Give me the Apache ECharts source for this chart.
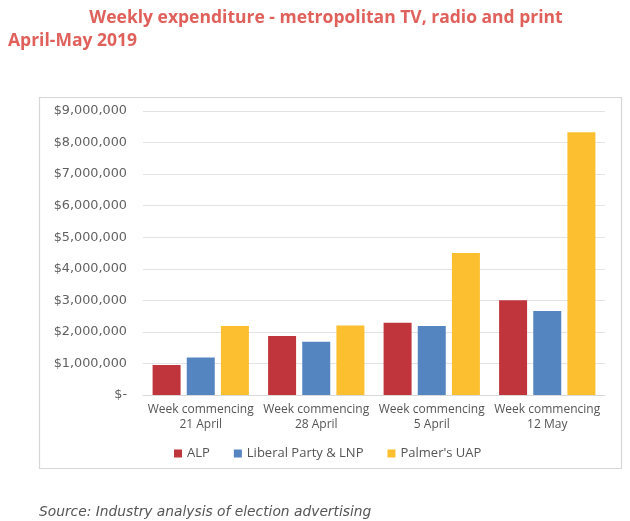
<!DOCTYPE html>
<html>
<head>
<meta charset="utf-8">
<script src="https://cdn.jsdelivr.net/npm/echarts@6/dist/echarts.min.js"></script>
<style>html,body{margin:0;padding:0;background:#fff;}#chart{width:630px;height:521px;}</style>
</head>
<body>
<div id="chart"></div>
<script>
var categories = ['Week commencing\n21 April', 'Week commencing\n28 April', 'Week commencing\n5 April', 'Week commencing\n12 May'];
var alp = [950000, 1870000, 2290000, 3000000];
var liberal = [1190000, 1690000, 2190000, 2660000];
var palmer = [2190000, 2200000, 4500000, 8330000];
var seriesNames = ['ALP', 'Liberal Party & LNP', "Palmer's UAP"];

var chart = echarts.init(document.getElementById('chart'));
function fmt(v) {
  if (v === 0) return '$-';
  return '$' + String(v).replace(/\B(?=(\d{3})+(?!\d))/g, ',');
}
var option = {
  animation: false,
  backgroundColor: '#fff',
  title: [
    { text: 'Weekly expenditure - metropolitan TV, radio and print', left: 321, top: 4, textAlign: 'center',
      textStyle: { fontFamily: 'Open Sans', fontWeight: 'bold', fontSize: 17.5, color: '#E0605B' } },
    { text: 'April-May 2019', left: 3, top: 27,
      textStyle: { fontFamily: 'Open Sans', fontWeight: 'bold', fontSize: 17.5, color: '#E0605B' } },
    { text: 'Source: Industry analysis of election advertising', left: 34, top: 500,
      textStyle: { fontFamily: 'DejaVu Sans', fontStyle: 'italic', fontWeight: 'normal', fontSize: 13.8, color: '#555' } }
  ],
  graphic: [
    { type: 'rect', shape: { x: 39.5, y: 97.5, width: 582, height: 371 }, style: { fill: 'none', stroke: '#d6d6d6', lineWidth: 1.2 }, silent: true }
  ],
  legend: {
    left: 169, top: 442, itemWidth: 8, itemHeight: 8, itemGap: 24, icon: 'rect',
    textStyle: { fontFamily: 'Open Sans', fontSize: 13, color: '#555' },
    data: seriesNames
  },
  grid: { left: 143, right: 25, top: 111, bottom: 126 },
  xAxis: {
    type: 'category', data: categories,
    axisLine: { lineStyle: { color: '#d9d9d9' } },
    axisTick: { show: false },
    axisLabel: { interval: 0, fontFamily: 'Open Sans', fontSize: 12, color: '#555', lineHeight: 15, margin: 7 }
  },
  yAxis: {
    type: 'value', min: 0, max: 9000000, interval: 1000000,
    axisLine: { show: false }, axisTick: { show: false },
    splitLine: { lineStyle: { color: '#e3e3e3' } },
    axisLabel: { fontFamily: 'DejaVu Sans', fontSize: 12.8, color: '#606060', margin: 16, formatter: fmt }
  },
  series: [
    { name: seriesNames[0], type: 'bar', data: alp, barWidth: 28, barGap: '22%', itemStyle: { color: '#C0353B' } },
    { name: seriesNames[1], type: 'bar', data: liberal, barWidth: 28, barGap: '22%', itemStyle: { color: '#5585C1' } },
    { name: seriesNames[2], type: 'bar', data: palmer, barWidth: 28, barGap: '22%', itemStyle: { color: '#FBBF2F' } }
  ]
};
chart.setOption(option);
</script>
</body>
</html>
